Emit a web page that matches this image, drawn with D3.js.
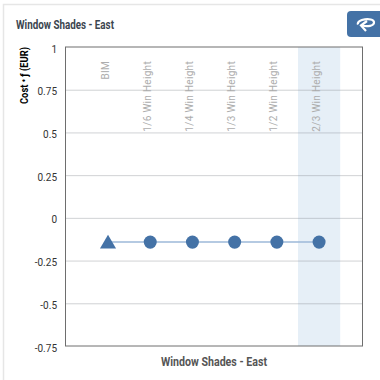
<!DOCTYPE html>
<html><head><meta charset="utf-8">
<script src="https://cdn.jsdelivr.net/npm/d3@7"></script>
<style>html,body{margin:0;padding:0;background:#fff}svg{display:block}text{font-family:Roboto,sans-serif}</style>
</head><body><svg id="c" width="380" height="380"></svg>
<script>
const chartTitle = "Window Shades - East";
const yAxisTitle = "Cost • ƒ (EUR)";
const categories = ["BIM","1/6 Win Height","1/4 Win Height","1/3 Win Height","1/2 Win Height","2/3 Win Height"];
const values = [-0.142,-0.142,-0.142,-0.142,-0.142,-0.142];
const yTicks = [1,0.75,0.5,0.25,0,-0.25,-0.5,-0.75];
const highlighted = "2/3 Win Height";

const svg = d3.select("#c");
const L=65.5,R=362.5,T=47,B=346;
const x = d3.scalePoint().domain(categories).range([L+0.3,R-1.2]).padding(1);
const y = d3.scaleLinear().domain([-0.75,1]).range([B,T]);
const band = x.step();

// card
svg.append("rect").attr("x",3.5).attr("y",4.5).attr("width",400).attr("height",400)
  .attr("fill","#fff").attr("stroke","#e6e6e6").attr("stroke-width",1.5);
svg.append("text").attr("x",16).attr("y",29).attr("font-size",12.5).attr("font-weight",700)
  .attr("fill","#3c4650").attr("textLength",98).attr("lengthAdjust","spacingAndGlyphs").text(chartTitle);

// button
const btn = svg.append("g");
btn.append("rect").attr("x",347).attr("y",11).attr("width",50).attr("height",26).attr("rx",4).attr("fill","#4472a6");
btn.append("path").attr("d","M358 24.5 C356 19 373 17 374 22 C374.5 26 367 27 362 25.5").attr("fill","none").attr("stroke","#fff").attr("stroke-width",2.2);
btn.append("path").attr("d","M367 21 L361 25.5 L366 31").attr("fill","none").attr("stroke","#fff").attr("stroke-width",2.2);

// highlight
svg.append("rect").attr("x",x(highlighted)-band/2).attr("y",T).attr("width",band).attr("height",B-T).attr("fill","#e6eff7");

// grid
svg.append("g").call(d3.axisLeft(y).tickValues(yTicks.filter(d=>d!==1&&d!==-0.75)).tickSize(-(R-L)).tickFormat(""))
  .call(g=>g.select(".domain").remove())
  .call(g=>g.selectAll("line").attr("stroke","#8a8f94").attr("stroke-opacity",0.4).attr("stroke-width",1))
  .attr("transform",`translate(${L},0)`);

// frame
svg.append("rect").attr("x",L).attr("y",T).attr("width",R-L).attr("height",B-T).attr("fill","none").attr("stroke","#6e6e6e").attr("stroke-width",1);

// y tick labels
svg.append("g").selectAll("text").data(yTicks).join("text")
  .attr("x",57).attr("y",d=>y(d)+5.5).attr("text-anchor","end")
  .attr("font-size",10).attr("fill","#333").text(d=>d);

// y title
svg.append("text").attr("transform","translate(28,104) rotate(-90)").attr("font-size",11).attr("font-weight",700)
  .attr("fill","#000").attr("textLength",57).attr("lengthAdjust","spacingAndGlyphs").text(yAxisTitle);

// category labels
svg.append("g").selectAll("text").data(categories).join("text")
  .attr("transform",d=>`translate(${x(d)+0.5},61) rotate(-90)`).attr("text-anchor","end")
  .attr("font-size",10).attr("letter-spacing",0.3).attr("fill","#adadad").text(d=>d);

// line + markers
const line = d3.line().x((d,i)=>x(categories[i])).y(d=>y(d));
svg.append("path").attr("d",line(values)).attr("fill","none").attr("stroke","#9db9d9").attr("stroke-width",1.5);
svg.append("g").selectAll("path").data(values).join("path")
  .attr("transform",(d,i)=>`translate(${x(categories[i])},${y(d)+(i===0?1.8:0)})`)
  .attr("d",(d,i)=>i===0?d3.symbol(d3.symbolTriangle,112)():d3.symbol(d3.symbolCircle,133)())
  .attr("fill","#4472a6");

// x title
svg.append("text").attr("x",214).attr("y",365.5).attr("text-anchor","middle").attr("font-size",12.5).attr("font-weight",700)
  .attr("fill","#555").attr("textLength",106).attr("lengthAdjust","spacingAndGlyphs").text(chartTitle);
</script></body></html>
